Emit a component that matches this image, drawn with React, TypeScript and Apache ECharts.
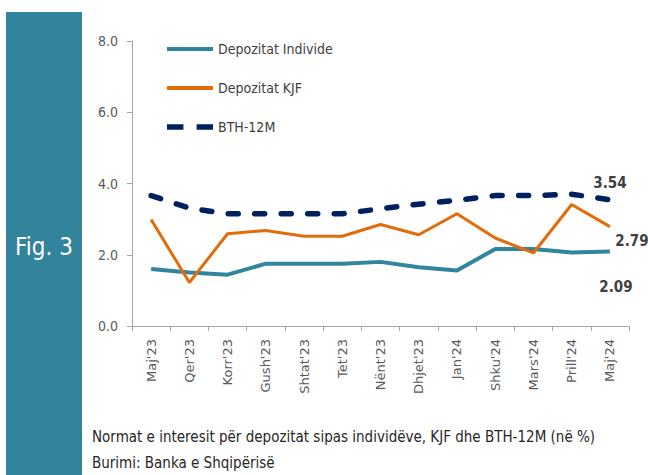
import React, { useEffect, useRef } from "react";
import * as echarts from "echarts";

const categories = ["Maj'23", "Qer'23", "Korr'23", "Gush'23", "Shtat'23", "Tet'23", "Nënt'23", "Dhjet'23", "Jan'24", "Shku'24", "Mars'24", "Prill'24", "Maj'24"];
const individe = [1.6, 1.5, 1.44, 1.75, 1.75, 1.75, 1.8, 1.65, 1.56, 2.16, 2.16, 2.06, 2.09];
const kjf = [2.99, 1.22, 2.59, 2.68, 2.52, 2.52, 2.85, 2.56, 3.15, 2.47, 2.05, 3.41, 2.79];
const bth = [3.66, 3.31, 3.15, 3.15, 3.15, 3.15, 3.29, 3.42, 3.53, 3.66, 3.66, 3.7, 3.54];
const yTicks = [0, 2, 4, 6, 8];

const NARROW = "'Liberation Sans Narrow', 'DejaVu Sans Condensed', 'Roboto Condensed', sans-serif";

export default function App() {
  const ref = useRef<HTMLDivElement>(null);
  useEffect(() => {
    if (!ref.current) return;
    const chart = echarts.init(ref.current, undefined, { renderer: "svg" });
    const last = categories.length - 1;
    const endLabel = (values: number[], offset: number[]) => ({
      symbol: "circle",
      symbolSize: 0,
      silent: true,
      data: [
        {
          coord: [categories[last], values[last]],
          value: values[last],
          label: {
            show: true,
            position: "inside",
            offset,
            fontFamily: NARROW,
            fontWeight: "bold",
            fontSize: 15,
            color: "#404040",
            formatter: values[last].toFixed(2),
          },
        },
      ],
    });
    chart.setOption({
      animation: false,
      backgroundColor: "#ffffff",
      grid: { left: 132, right: 19, top: 41, bottom: 149, containLabel: false },
      legend: {
        orient: "vertical",
        left: 162,
        top: 37,
        itemGap: 25,
        itemWidth: 46,
        itemHeight: 16,
        textStyle: { fontFamily: NARROW, fontSize: 14, color: "#404040" },
        data: [
          { name: "Depozitat Individe", icon: "path://M0,0H46V4H0Z" },
          { name: "Depozitat KJF", icon: "path://M0,0H46V4H0Z" },
          { name: "BTH-12M", icon: "path://M0,0H15V5H0ZM27,0H42V5H27Z" },
        ],
      },
      xAxis: {
        type: "category",
        data: categories,
        boundaryGap: true,
        axisLine: { lineStyle: { color: "#a6a6a6", width: 1 } },
        axisTick: { show: true, alignWithLabel: false, length: 5, lineStyle: { color: "#a6a6a6" } },
        axisLabel: {
          rotate: 90,
          interval: 0,
          margin: 13,
          fontFamily: "'DejaVu Sans', 'Open Sans', sans-serif",
          fontSize: 13,
          color: "#595959",
        },
      },
      yAxis: {
        type: "value",
        min: 0,
        max: 8,
        interval: 2,
        splitLine: { show: false },
        axisLine: { show: true, lineStyle: { color: "#a6a6a6", width: 1 } },
        axisTick: { show: true, length: 5, lineStyle: { color: "#a6a6a6" } },
        axisLabel: {
          margin: 14,
          fontFamily: NARROW,
          fontSize: 14,
          color: "#595959",
          formatter: (v: number) => (yTicks.includes(v) ? v.toFixed(1) : ""),
        },
      },
      series: [
        {
          name: "Depozitat Individe",
          type: "line",
          data: individe,
          symbol: "none",
          lineStyle: { color: "#31859c", width: 4 },
          itemStyle: { color: "#31859c" },
          markPoint: endLabel(individe, [6, 35]),
          z: 3,
        },
        {
          name: "Depozitat KJF",
          type: "line",
          data: kjf,
          symbol: "none",
          lineStyle: { color: "#e36c09", width: 3 },
          itemStyle: { color: "#e36c09" },
          markPoint: endLabel(kjf, [22, 14]),
          z: 4,
        },
        {
          name: "BTH-12M",
          type: "line",
          data: bth,
          symbol: "none",
          lineStyle: { color: "#002060", width: 5.5, type: [10, 16.5], cap: "round" },
          itemStyle: { color: "#002060" },
          markPoint: endLabel(bth, [0, -17]),
          z: 5,
        },
      ],
      graphic: [
        { type: "rect", shape: { x: 6, y: 12, width: 76, height: 470 }, style: { fill: "#31849b" } },
        {
          type: "text",
          x: 44,
          y: 247,
          style: {
            text: "Fig. 3",
            fill: "#ffffff",
            font: `24px ${NARROW}`,
            align: "center",
            verticalAlign: "middle",
          },
        },
        {
          type: "text",
          x: 92,
          y: 437,
          style: {
            text: "Normat e interesit për depozitat sipas individëve, KJF dhe BTH-12M (në %)",
            fill: "#262626",
            font: `15px ${NARROW}`,
            verticalAlign: "middle",
          },
        },
        {
          type: "text",
          x: 92,
          y: 463,
          style: {
            text: "Burimi: Banka e Shqipërisë",
            fill: "#262626",
            font: `15px ${NARROW}`,
            verticalAlign: "middle",
          },
        },
      ],
    });
    return () => chart.dispose();
  }, []);
  return <div ref={ref} style={{ position: "fixed", left: 0, top: 0, width: 648, height: 475 }} />;
}
